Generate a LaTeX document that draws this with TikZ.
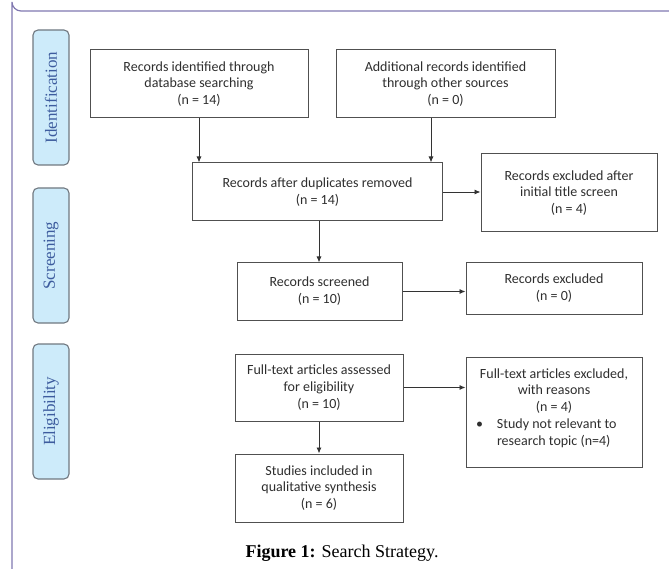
\documentclass[tikz,border=0pt]{standalone}
\usepackage{fontspec}
\setmainfont{Carlito}
\newfontfamily\serifl{Liberation Serif}
\usetikzlibrary{arrows.meta}
\definecolor{frame}{HTML}{8078B0}
\definecolor{lanefill}{HTML}{CDEBFA}
\definecolor{laneedge}{HTML}{707880}
\definecolor{lanetext}{HTML}{3D5C9E}
\definecolor{boxedge}{HTML}{505050}
\definecolor{boxtext}{HTML}{2E2E2E}
\begin{document}
\begin{tikzpicture}[x=1pt,y=-1pt,
  lane/.style={draw=laneedge,line width=1.1pt,fill=lanefill,rounded corners=5pt,inner sep=0pt},
  lanelabel/.style={rotate=90,text=lanetext,font=\serifl\fontsize{17}{19}\selectfont},
  box/.style={draw=boxedge,line width=1pt,inner sep=0pt,align=center,text=boxtext,
    font=\fontsize{14}{16.8}\selectfont},
  arr/.style={draw=black!80,line width=0.9pt,-{Latex[length=6pt,width=5pt]}}]
\useasboundingbox (0,0) rectangle (669,569);
% outer frame
\draw[frame,line width=1.2pt] (669,11) -- (21,11) arc[start angle=90,end angle=180,radius=9] -- (12,569);
% lanes
\node[lane,minimum width=36pt,minimum height=135pt] (l1) at (51,97.5) {};
\node[lanelabel] at (l1) {Identification};
\node[lane,minimum width=36pt,minimum height=135pt] (l2) at (51,255.5) {};
\node[lanelabel] at (l2) {Screening};
\node[lane,minimum width=36pt,minimum height=135pt] (l3) at (51,411.5) {};
\node[lanelabel] at (l3) {Eligibility};
% boxes
\node[box,minimum width=218pt,minimum height=68pt] (b1) at (199,84) {Records identified through\\database searching\\(n = 14)};
\node[box,minimum width=219pt,minimum height=68pt] (b2) at (445.5,84) {Additional records identified\\through other sources\\(n = 0)};
\node[box,minimum width=250pt,minimum height=58pt] (b3) at (317.5,192) {Records after duplicates removed\\(n = 14)};
\node[box,minimum width=176pt,minimum height=78pt] (b4) at (569,193) {Records excluded after\\initial title screen\\(n = 4)};
\node[box,minimum width=165pt,minimum height=57pt] (b5) at (319.5,291.5) {Records screened\\(n = 10)};
\node[box,minimum width=176pt,minimum height=51pt] (b6) at (554,288.5) {Records excluded\\(n = 0)};
\node[box,minimum width=168pt,minimum height=67pt] (b7) at (319,387.5) {Full-text articles assessed\\for eligibility\\(n = 10)};
\node[box,minimum width=176pt,minimum height=110pt] (b8) at (554,412) {\begin{minipage}{176pt}\centering
Full-text articles excluded,\\with reasons\\(n = 4)\par
\raggedright\leftskip=31pt\makebox[0pt][r]{\textbullet\hspace{14pt}}Study not relevant to\\research topic (n=4)\par\vspace{8pt}\end{minipage}};
\node[box,minimum width=168pt,minimum height=68pt] (b9) at (319,488) {Studies included in\\qualitative synthesis\\(n = 6)};
% arrows
\draw[arr] (b1.south) -- (b1.south |- b3.north);
\draw[arr] (b2.south -| 431,0) -- (431,0 |- b3.north);
\draw[arr] (b3.east) -- (b3.east -| b4.west);
\draw[arr] (b3.south -| 319,0) -- (b5.north -| 319,0);
\draw[arr] (b5.east) -- (b5.east -| b6.west);
\draw[arr] (b7.east) -- (b7.east -| b8.west);
\draw[arr] (b7.south) -- (b9.north);
% caption
\node[font=\serifl\fontsize{18}{21}\selectfont] (cap) at (342,553) {\textbf{Figure 1:} Search Strategy.};
\end{tikzpicture}
\end{document}
